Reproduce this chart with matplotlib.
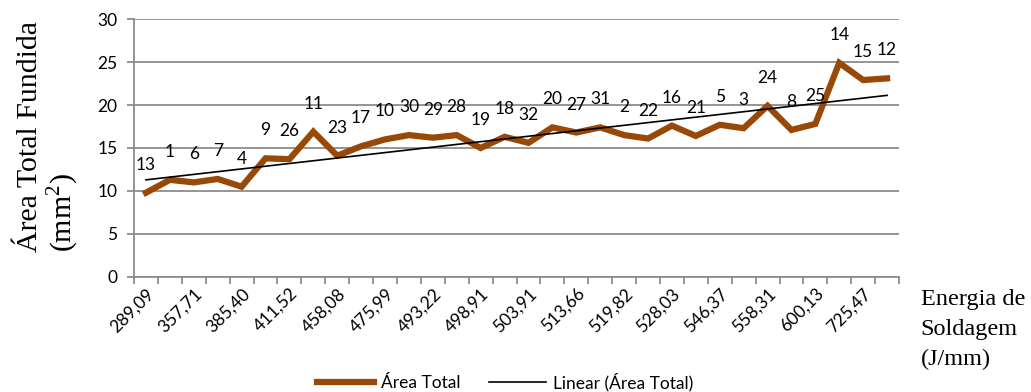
"""Area total fundida vs energia de soldagem"""
import numpy as np
import matplotlib
matplotlib.use("Agg")
import matplotlib.pyplot as plt
from matplotlib.lines import Line2D

# energia de soldagem (J/mm), every other category label is shown
energia = ["289,09", "", "357,71", "", "385,40", "", "411,52", "", "458,08", "",
           "475,99", "", "493,22", "", "498,91", "", "503,91", "", "513,66", "",
           "519,82", "", "528,03", "", "546,37", "", "558,31", "", "600,13", "",
           "725,47", ""]
area_total = [9.8, 11.3, 11.0, 11.4, 10.5, 13.8, 13.7, 16.9, 14.1, 15.2,
              16.0, 16.5, 16.2, 16.5, 15.0, 16.3, 15.6, 17.4, 16.8, 17.4,
              16.5, 16.1, 17.6, 16.4, 17.7, 17.3, 19.9, 17.1, 17.8, 24.9,
              22.9, 23.1]
amostra = ["13", "1", "6", "7", "4", "9", "26", "11", "23", "17", "10", "30",
           "29", "28", "19", "18", "32", "20", "27", "31", "2", "22", "16",
           "21", "5", "3", "24", "8", "25", "14", "15", "12"]

brown = "#984807"
grid_gray = "#8c8c8c"
sans = "Lato"
serif = "Liberation Serif"

fig = plt.figure(figsize=(10.31, 3.92), dpi=100)
ax = fig.add_axes([0.130, 0.2934, 0.742, 0.6581])

x = np.arange(len(area_total))
ax.plot(x, area_total, color=brown, lw=4.5, solid_joinstyle="miter", zorder=3)

# linear trend line (Excel style)
coef = np.polyfit(x, area_total, 1)
ax.plot(x, np.polyval(coef, x), color="black", lw=1.2, zorder=4)

for xi, yi, lab in zip(x, area_total, amostra):
    ax.annotate(lab, (xi, yi), xytext=(0, 28), textcoords="offset pixels",
                ha="center", va="center", fontsize=12.5, family=sans)

ax.set_xlim(-0.5, len(x) - 0.5)
ax.set_ylim(0, 30)
ax.set_yticks(range(0, 31, 5))
ax.yaxis.grid(True, color=grid_gray, lw=1.3)
ax.set_axisbelow(True)
for side in ["top", "right"]:
    ax.spines[side].set_visible(False)
for side in ["left", "bottom"]:
    ax.spines[side].set_color(grid_gray)
    ax.spines[side].set_linewidth(1.3)

# category ticks between points, labels at the points
ax.set_xticks(np.arange(-0.5, len(x)), minor=False)
ax.set_xticklabels([])
ax.set_xticks(x, minor=True)
ax.set_xticklabels(energia, minor=True, rotation=45, ha="right",
                   rotation_mode="anchor", fontsize=12.5, family=sans)
ax.tick_params(axis="x", which="major", length=5, color=grid_gray, width=1.3)
ax.tick_params(axis="x", which="minor", length=0, pad=6)
ax.tick_params(axis="y", length=5, color=grid_gray, width=1.3, labelsize=12.5,
               pad=7)
for t in ax.get_yticklabels():
    t.set_family(sans)

# y label: two lines, both starting from the bottom
fig.text(0.029, 0.357, "Área Total Fundida", rotation=90, ha="center",
         va="bottom", fontsize=21.5, family=serif)
fig.text(0.061, 0.357, r"(mm$^{\mathregular{2}}$)", rotation=90, ha="center",
         va="bottom", fontsize=21.5, family=serif)

fig.text(0.893, 0.262, "Energia de\nSoldagem\n(J/mm)", ha="left", va="top",
         fontsize=17.5, family=serif, linespacing=1.55)

handles = [Line2D([], [], color=brown, lw=4.5),
           Line2D([], [], color="black", lw=1.2)]
fig.legend(handles, ["Área Total", "Linear (Área Total)"], loc="center",
           bbox_to_anchor=(0.49, 0.025), ncol=2, frameon=False,
           prop={"family": sans, "size": 12.5}, handlelength=3.3,
           columnspacing=1.6, handletextpad=0.4)

fig.savefig("out.png", dpi=100)
